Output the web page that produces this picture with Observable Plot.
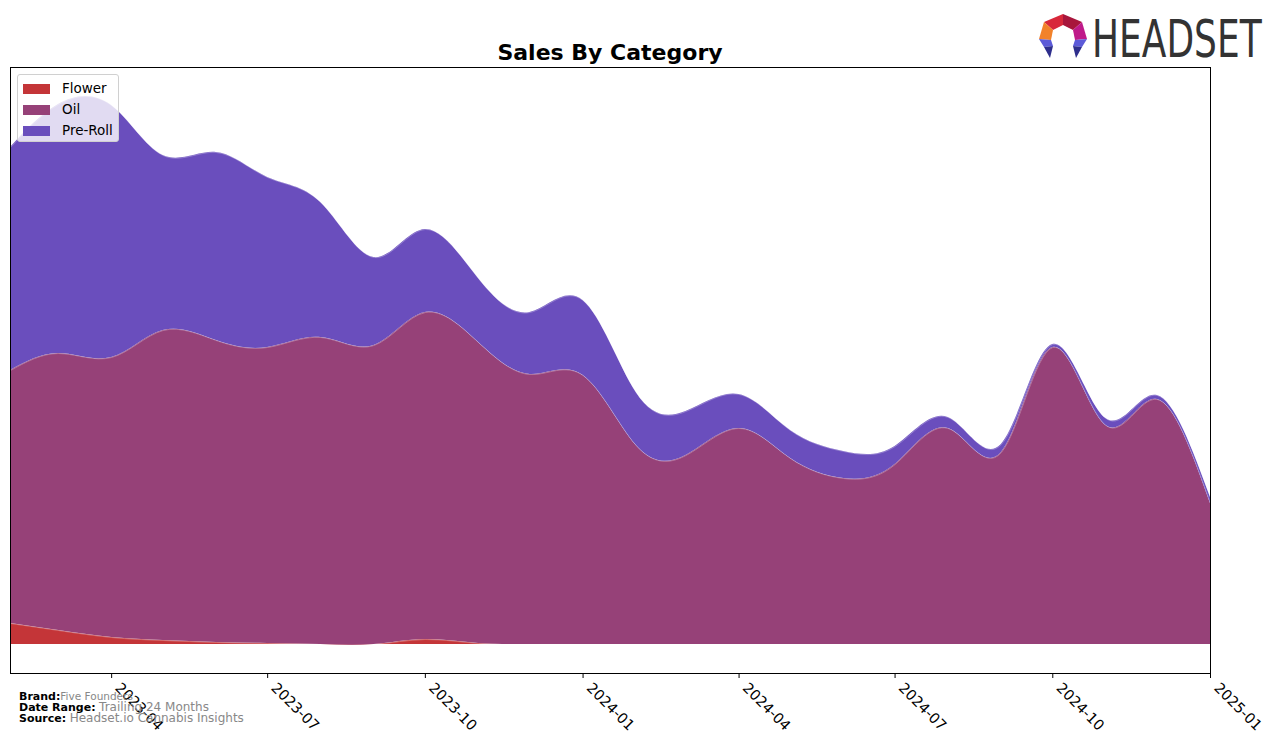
<!DOCTYPE html>
<html>
<head>
<meta charset="utf-8">
<script src="https://cdn.jsdelivr.net/npm/d3@7"></script>
<script src="https://cdn.jsdelivr.net/npm/@observablehq/plot@0.6"></script>
<style>
  html, body { margin: 0; padding: 0; background: #fff; }
  #wrap { position: relative; width: 1276px; height: 743px; overflow: hidden; font-family: "DejaVu Sans", sans-serif; }
  #chart { position: absolute; left: 0; top: 0; }
  #title { position: absolute; left: 10px; width: 1200px; top: 40px; text-align: center; font-weight: bold; font-size: 22px; line-height: 26px; color: #000; }
  #legend { position: absolute; left: 17px; top: 74px; width: 100px; height: 66px; background: rgba(255,255,255,0.8); border: 1px solid #d0d0d0; border-radius: 3px; font-size: 13.5px; }
  .li { position: absolute; left: 5px; height: 14px; line-height: 14px; }
  .sw { display: inline-block; width: 27px; height: 10px; vertical-align: middle; margin-right: 12px; }
  #footer { position: absolute; left: 19px; top: 691px; font-size: 11px; line-height: 10px; }
  #footer b { color: #000; }
  #footer span { color: #888; }
  #logo { position: absolute; left: 1030px; top: 8px; }
  #logotext { position: absolute; left: 1092px; top: 10px; font-family: "Liberation Sans Narrow", "DejaVu Sans Condensed", sans-serif; font-size: 43px; line-height: 50px; color: #333; white-space: nowrap; transform: scale(0.93, 1.18); transform-origin: left top; }
</style>
</head>
<body>
<div id="wrap">
  <div id="chart"></div>
  <div id="title">Sales By Category</div>
  <div id="legend"></div>
  <div id="footer">
    <div><b>Brand:</b><span style="font-size:10.5px">Five Founders</span></div>
    <div><b>Date Range:</b> <span style="font-size:12px">Trailing 24 Months</span></div>
    <div><b>Source:</b> <span style="font-size:12px">Headset.io Cannabis Insights</span></div>
  </div>
  <svg id="logo" width="60" height="56" viewBox="0 0 60 56">
    <polygon points="33,6 14,14 23,22 33,17" fill="#d8283a"/>
    <polygon points="33,6 52,14 43,22 33,17" fill="#a8163c"/>
    <polygon points="14,14 9,31 21,32 23,22" fill="#f2822a"/>
    <polygon points="52,14 57,31 45,32 43,22" fill="#bf1a8a"/>
    <polygon points="9,31 21,32 23,38 14,39" fill="#5c5ad8"/>
    <polygon points="14,39 23,38 20,50" fill="#2e2e8c"/>
    <polygon points="57,31 45,32 43,38 52,39" fill="#5c5ad8"/>
    <polygon points="52,39 43,38 46,50" fill="#2e2e8c"/>
  </svg>
  <div id="logotext">HEADSET</div>
</div>
<script>
const months = ["2023-02","2023-03","2023-04","2023-05","2023-06","2023-07","2023-08","2023-09","2023-10","2023-11","2023-12",
  "2024-01","2024-02","2024-03","2024-04","2024-05","2024-06","2024-07","2024-08","2024-09","2024-10","2024-11","2024-12","2025-01"];
const categories = ["Flower","Oil","Pre-Roll"];
const colors = ["#c43538","#964178","#6a4ebd"];
const flower  = [21,14,7,4,2,1,0,0,5,1,0,0,0,0,0,0,0,0,0,0,0,0,0,0];
const oil     = [253,277,280,310,302,296,307,299,327,301,270,269,199,189,216,186,166,180,216,192,297,219,245,141];
const preRoll = [223,249,252,175,188,170,135,88,83,64,62,75,53,44,34,28,27,18,11,8,3,7,4,6];
const tickMonths = ["2023-04","2023-07","2023-10","2024-01","2024-04","2024-07","2024-10","2025-01"];

const parse = d3.utcParse("%Y-%m");
const series = [flower, oil, preRoll];
const data = [];
categories.forEach((c, i) => months.forEach((m, j) => data.push({date: parse(m), category: c, value: series[i][j]})));
const ticks = tickMonths.map(parse);

const chart = Plot.plot({
  width: 1276,
  height: 743,
  marginLeft: 10,
  marginRight: 66,
  marginTop: 67,
  marginBottom: 70,
  style: {fontFamily: "DejaVu Sans, sans-serif", fontSize: "14px", background: "transparent"},
  x: {type: "utc", domain: [parse(months[0]), parse(months[months.length - 1])]},
  y: {domain: [-29, 577], axis: null},
  color: {domain: categories, range: colors},
  marks: [
    Plot.areaY(data, {x: "date", y: "value", fill: "category", z: "category", order: categories, curve: "natural"}),
    Plot.lineY(data, Plot.stackY2({x: "date", y: "value", z: "category", order: categories, curve: "natural", stroke: "white", strokeOpacity: 0.35, strokeWidth: 0.8})),
    Plot.frame({stroke: "black", strokeWidth: 1}),
    Plot.axisX({ticks, tickSize: 5, tickFormat: () => "", label: null, stroke: "black"}),
    Plot.axisX({ticks, tickFormat: d3.utcFormat("%Y-%m"), tickRotate: 45, tickSize: 0, tickPadding: 10, dx: 6, dy: 2, fontSize: 14.5, label: null, fill: "black"})
  ]
});
document.getElementById("chart").appendChild(chart);

const legend = document.getElementById("legend");
categories.forEach((c, i) => {
  const div = document.createElement("div");
  div.className = "li";
  div.style.top = (6 + i * 21) + "px";
  div.innerHTML = `<span class="sw" style="background:${colors[i]}"></span>${c}`;
  legend.appendChild(div);
});
</script>
</body>
</html>
